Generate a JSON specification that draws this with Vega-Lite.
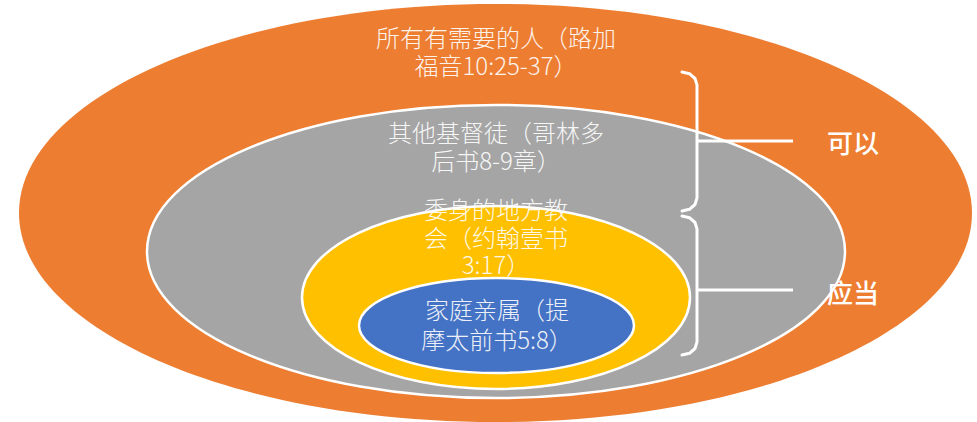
{
  "$schema": "https://vega.github.io/schema/vega-lite/v6.json",
  "width": 977,
  "height": 422,
  "padding": 0,
  "autosize": "none",
  "background": "white",
  "config": {"view": {"stroke": null}},
  "datasets": {
    "ellipses": [
      {"name": "orange", "cx": 495.5, "cy": 213},
      {"name": "gray", "cx": 496, "cy": 251.5},
      {"name": "yellow", "cx": 496, "cy": 297.5},
      {"name": "blue", "cx": 496.5, "cy": 325.5}
    ],
    "brackets": [
      {"b": "top", "o": 1, "x": 682, "y": 72},
      {"b": "top", "o": 2, "x": 689.5, "y": 73.7},
      {"b": "top", "o": 3, "x": 695, "y": 78.5},
      {"b": "top", "o": 4, "x": 697, "y": 85},
      {"b": "top", "o": 5, "x": 697, "y": 198},
      {"b": "top", "o": 6, "x": 695, "y": 204.5},
      {"b": "top", "o": 7, "x": 689.5, "y": 209.3},
      {"b": "top", "o": 8, "x": 682, "y": 211},
      {"b": "bottom", "o": 1, "x": 682, "y": 216},
      {"b": "bottom", "o": 2, "x": 689.5, "y": 217.7},
      {"b": "bottom", "o": 3, "x": 695, "y": 222.5},
      {"b": "bottom", "o": 4, "x": 697, "y": 229},
      {"b": "bottom", "o": 5, "x": 697, "y": 342},
      {"b": "bottom", "o": 6, "x": 695, "y": 348.5},
      {"b": "bottom", "o": 7, "x": 689.5, "y": 353.3},
      {"b": "bottom", "o": 8, "x": 682, "y": 355}
    ],
    "ticks": [
      {"x": 697, "x2": 793, "y": 141},
      {"x": 697, "x2": 793, "y": 290}
    ],
    "texts": [
      {"t": "所有有需要的人（路加", "x": 496, "y": 40},
      {"t": "福音10:25-37）", "x": 496, "y": 68},
      {"t": "其他基督徒（哥林多", "x": 496, "y": 135},
      {"t": "后书8-9章）", "x": 496, "y": 163},
      {"t": "委身的地方教", "x": 496, "y": 212},
      {"t": "会（约翰壹书", "x": 496, "y": 240},
      {"t": "3:17）", "x": 496, "y": 267},
      {"t": "家庭亲属（提", "x": 497, "y": 312},
      {"t": "摩太前书5:8）", "x": 497, "y": 342}
    ],
    "labels": [
      {"t": "可以", "x": 853, "y": 145},
      {"t": "应当", "x": 853, "y": 295}
    ]
  },
  "encoding": {
    "x": {"field": "x", "type": "quantitative", "scale": {"domain": [0, 977], "nice": false, "zero": false}, "axis": null},
    "y": {"field": "y", "type": "quantitative", "scale": {"domain": [0, 422], "nice": false, "zero": false, "reverse": true}, "axis": null}
  },
  "layer": [
    {
      "data": {"name": "ellipses"},
      "transform": [{"filter": "datum.name === 'orange'"}],
      "mark": {"type": "point", "filled": true, "fill": "#ED7D31", "opacity": 1, "strokeWidth": 0,
        "shape": "M-1,0C-1,-0.2422,-0.5523,-0.4386,0,-0.4386C0.5523,-0.4386,1,-0.2422,1,0C1,0.2422,0.5523,0.4386,0,0.4386C-0.5523,0.4386,-1,0.2422,-1,0Z",
        "size": 908209},
      "encoding": {"x": {"field": "cx", "type": "quantitative"}, "y": {"field": "cy", "type": "quantitative"}}
    },
    {
      "data": {"name": "ellipses"},
      "transform": [{"filter": "datum.name === 'gray'"}],
      "mark": {"type": "point", "filled": true, "fill": "#A5A5A5", "opacity": 1, "stroke": "white", "strokeWidth": 2.5,
        "shape": "M-1,0C-1,-0.2319,-0.5523,-0.4198,0,-0.4198C0.5523,-0.4198,1,-0.2319,1,0C1,0.2319,0.5523,0.4198,0,0.4198C-0.5523,0.4198,-1,0.2319,-1,0Z",
        "size": 487204},
      "encoding": {"x": {"field": "cx", "type": "quantitative"}, "y": {"field": "cy", "type": "quantitative"}}
    },
    {
      "data": {"name": "ellipses"},
      "transform": [{"filter": "datum.name === 'yellow'"}],
      "mark": {"type": "point", "filled": true, "fill": "#FFC000", "opacity": 1, "stroke": "white", "strokeWidth": 2.5,
        "shape": "M-1,0C-1,-0.2605,-0.5523,-0.4716,0,-0.4716C0.5523,-0.4716,1,-0.2605,1,0C1,0.2605,0.5523,0.4716,0,0.4716C-0.5523,0.4716,-1,0.2605,-1,0Z",
        "size": 150544},
      "encoding": {"x": {"field": "cx", "type": "quantitative"}, "y": {"field": "cy", "type": "quantitative"}}
    },
    {
      "data": {"name": "ellipses"},
      "transform": [{"filter": "datum.name === 'blue'"}],
      "mark": {"type": "point", "filled": true, "fill": "#4472C4", "opacity": 1, "stroke": "white", "strokeWidth": 2.5,
        "shape": "M-1,0C-1,-0.1908,-0.5523,-0.3455,0,-0.3455C0.5523,-0.3455,1,-0.1908,1,0C1,0.1908,0.5523,0.3455,0,0.3455C-0.5523,0.3455,-1,0.1908,-1,0Z",
        "size": 75625},
      "encoding": {"x": {"field": "cx", "type": "quantitative"}, "y": {"field": "cy", "type": "quantitative"}}
    },
    {
      "data": {"name": "brackets"},
      "mark": {"type": "line", "color": "white", "strokeWidth": 3, "strokeCap": "round", "strokeJoin": "round"},
      "encoding": {
        "detail": {"field": "b", "type": "nominal"},
        "order": {"field": "o", "type": "quantitative"}
      }
    },
    {
      "data": {"name": "ticks"},
      "mark": {"type": "rule", "color": "white", "strokeWidth": 3},
      "encoding": {"x2": {"field": "x2"}}
    },
    {
      "data": {"name": "texts"},
      "mark": {"type": "text", "font": "Noto Sans CJK SC", "fontSize": 24, "fontWeight": 300, "color": "white", "opacity": 0.9, "align": "center", "baseline": "middle"},
      "encoding": {"text": {"field": "t", "type": "nominal"}}
    },
    {
      "data": {"name": "labels"},
      "mark": {"type": "text", "font": "Noto Sans CJK SC", "fontSize": 26, "fontWeight": 500, "color": "white", "align": "center", "baseline": "middle"},
      "encoding": {"text": {"field": "t", "type": "nominal"}}
    }
  ]
}
